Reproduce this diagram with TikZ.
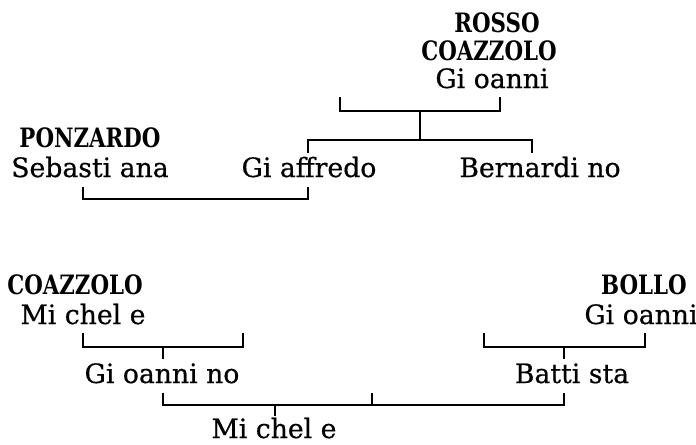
\documentclass[tikz,border=0pt]{standalone}
\usepackage{fontspec}
\newfontfamily\lowfont[FakeBold=0.6]{DejaVu Serif}
\newfontfamily\upfont[FakeStretch=0.8]{DejaVu Serif}
\tikzset{
  lname/.style={font=\lowfont\fontsize{20}{24}\selectfont, inner sep=0pt, anchor=base},
  uname/.style={font=\upfont\bfseries\fontsize{20}{24}\selectfont, inner sep=0pt, anchor=base},
  conn/.style={line width=1.5pt, black}
}
\begin{document}
\begin{tikzpicture}[x=0.75pt, y=-0.75pt]
\useasboundingbox (0,0) rectangle (696,444);
% top family
\node[uname] (rosso) at (497,32) {ROSSO};
\node[uname] (coazA) at (489,60) {COAZZOLO};
\node[lname] (gioA) at (492,88) {Gi oanni};
\node[uname] (ponz) at (90,147) {PONZARDO};
\node[lname] (seb) at (90,177) {Sebasti ana};
\node[lname] (giaf) at (309,177) {Gi affredo};
\node[lname] (bern) at (540,177) {Bernardi no};
% bottom
\node[uname] (coazB) at (75,294) {COAZZOLO};
\node[lname] (micA) at (83,324) {Mi chel e};
\node[uname] (bollo) at (644,294) {BOLLO};
\node[lname] (gioB) at (641,324) {Gi oanni};
\node[lname] (gioino) at (162,383) {Gi oanni no};
\node[lname] (batt) at (572,383) {Batti sta};
\node[lname] (micB) at (274,438) {Mi chel e};
% coordinates
\coordinate (a1) at (340,97); \coordinate (a2) at (500,97);
\coordinate (a3) at (420,111); \coordinate (a4) at (420,140);
\coordinate (b1) at (308,153); \coordinate (b2) at (532,153);
\coordinate (c1) at (83,187); \coordinate (c2) at (308,187); \coordinate (c3) at (308,199);
\coordinate (d1) at (83,333); \coordinate (d2) at (243,333);
\coordinate (d3) at (163,347); \coordinate (d4) at (163,359);
\coordinate (e1) at (484,333); \coordinate (e2) at (645,333);
\coordinate (e3) at (564,347); \coordinate (e4) at (564,359);
\coordinate (f1) at (163,393); \coordinate (f2) at (564,393);
\coordinate (f3) at (372,393); \coordinate (f4) at (372,405);
\coordinate (f5) at (275,405); \coordinate (f6) at (275,416);
% connectors
\draw[conn] (a1) |- (a3) -| (a2);
\draw[conn] (a3) -- (a4);
\draw[conn] (b1) |- (a4) -| (b2);
\draw[conn] (c1) |- (c3) -- (c2);
\draw[conn] (d1) |- (d3) -| (d2);
\draw[conn] (d3) -- (d4);
\draw[conn] (e1) |- (e3) -| (e2);
\draw[conn] (e3) -- (e4);
\draw[conn] (f1) |- (f5) -| (f2);
\draw[conn] (f3) -- (f4);
\draw[conn] (f5) -- (f6);
\end{tikzpicture}
\end{document}
